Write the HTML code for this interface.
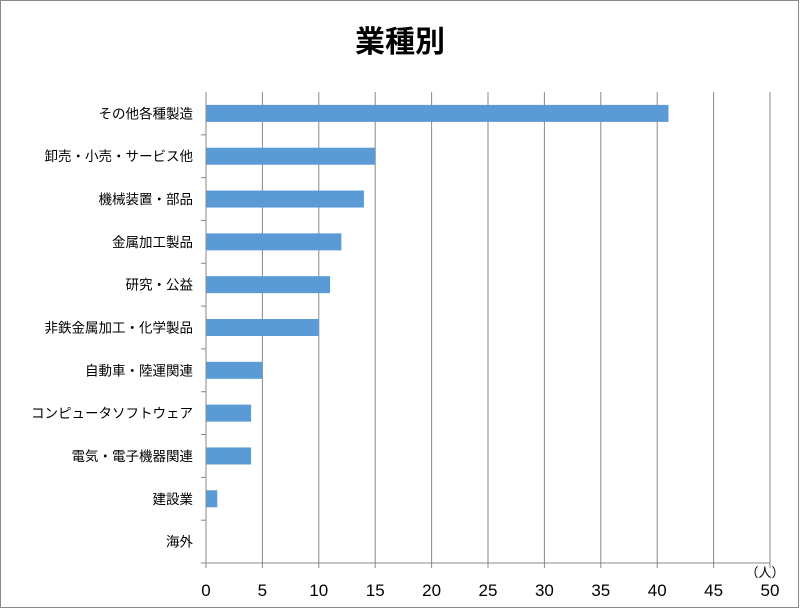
<!DOCTYPE html>
<html><head><meta charset="utf-8"><style>
body{margin:0;background:#fff}
svg{display:block;font-family:"Liberation Sans","Noto Sans CJK JP",sans-serif}
</style></head><body>
<svg id="chart" width="800" height="609">
<rect x="0.5" y="0.5" width="798" height="607" fill="#fff" stroke="#888"/>
<text x="400" y="52" text-anchor="middle" font-size="30" font-weight="bold" fill="#000">業種別</text>
<g id="grid"></g><g id="bars"></g><g id="axes"></g>
<text x="765" y="577" text-anchor="middle" font-size="13" fill="#000">（人）</text>
</svg>
<script>
const categories=["その他各種製造","卸売・小売・サービス他","機械装置・部品","金属加工製品","研究・公益","非鉄金属加工・化学製品","自動車・陸運関連","コンピュータソフトウェア","電気・電子機器関連","建設業","海外"];
const values=[41,15,14,12,11,10,5,4,4,1,0];
const xTicks=[0,5,10,15,20,25,30,35,40,45,50];
const NS="http://www.w3.org/2000/svg";
const L=206,R=770,T=92,B=563,xMax=50;
const x=v=>L+(R-L)*v/xMax;
const band=(B-T)/categories.length;
const yc=i=>T+band*(i+0.5);
function mk(tag,attrs,parent){const e=document.createElementNS(NS,tag);for(const k in attrs)e.setAttribute(k,attrs[k]);document.getElementById(parent).appendChild(e);return e;}
xTicks.forEach((t,i)=>{
 if(t>0){const g=mk('line',{x1:x(t),x2:x(t),y1:T,y2:B,stroke:'#888','stroke-width':1},'grid');
 
 }
 const tk=mk('line',{x1:x(t),x2:x(t),y1:B,y2:B+5,stroke:'#888'},'axes');
 
 
 const lb=mk('text',{x:x(t),y:B+33,'text-anchor':'middle','font-size':17,fill:'#000'},'axes');
 lb.textContent=t;
 
 
});
categories.forEach((c,i)=>{
 const b=mk('rect',{x:L,y:yc(i)-8.5,width:x(values[i])-L,height:17,fill:'#5b9bd5'},'bars');
 
 
 const lb=mk('text',{x:L-13,y:yc(i)+5,'text-anchor':'end','font-size':13.5,fill:'#000'},'axes');
 lb.textContent=c;
 
 
 const tk=mk('line',{x1:L-5,x2:L,y1:T+band*(i+1),y2:T+band*(i+1),stroke:'#888'},'axes');
 
 
});
const ya=mk('line',{x1:L,x2:L,y1:T,y2:B,stroke:'#888'},'axes');


const xa=mk('line',{x1:L,x2:R,y1:B,y2:B,stroke:'#888'},'axes');


</script>
</body></html>
